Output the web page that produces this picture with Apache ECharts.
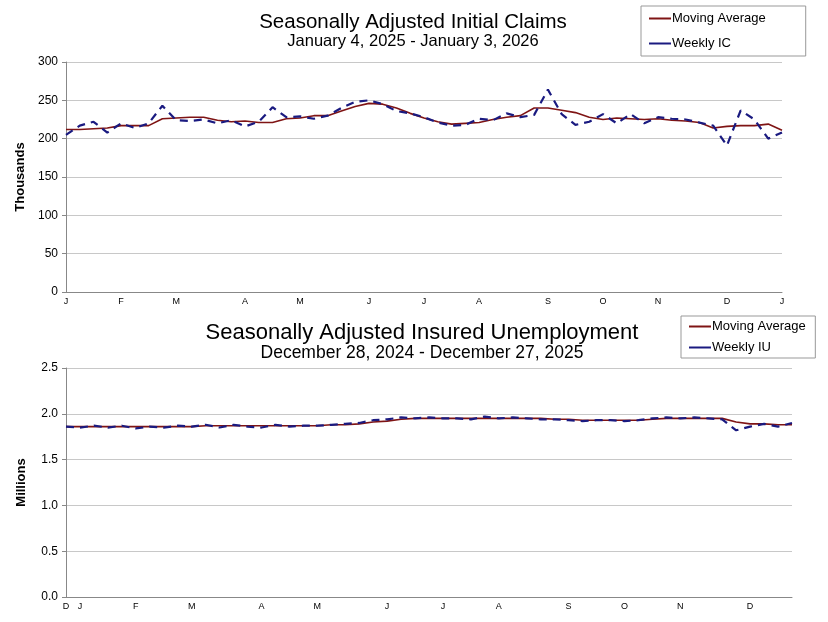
<!DOCTYPE html>
<html>
<head>
<meta charset="utf-8">
<script src="https://cdn.jsdelivr.net/npm/echarts@6/dist/echarts.min.js"></script>
<style>
  body { margin: 0; background: #fff; }
  #main { width: 828px; height: 622px; }
</style>
</head>
<body>
<div id="main"></div>
<script>
// Initial claims, thousands, weeks Jan 4 2025 - Jan 3 2026
const icLabels = ['J','','','','F','','','','M','','','','','A','','','','M','','','','','J','','','','J','','','','A','','','','','S','','','','O','','','','N','','','','','D','','','','J'];
const weeklyIC = [205,217,222,208,220,214,220,243,224,223,225,220,224,216,222,241,228,229,226,230,240,248,250,245,236,233,228,221,217,218,226,224,233,228,231,264,232,218,222,232,220,232,220,228,226,225,221,217,191,237,225,200,208];
const maIC = [212,212,213,214,217,217,217,226,227,228,228,224,222,223,221,221,226,227,230,230,236,242,246,245,240,233,227,222,219,220,221,225,228,230,240,240,237,234,228,225,227,226,225,226,224,223,221,214,216,217,217,219,211];

// Insured unemployment, millions, weeks Dec 28 2024 - Dec 27 2025
const iuLabels = ['D','J','','','','F','','','','M','','','','','A','','','','M','','','','','J','','','','J','','','','A','','','','','S','','','','O','','','','N','','','','','D','','',''];
const weeklyIU = [1.86,1.85,1.87,1.85,1.87,1.84,1.86,1.85,1.87,1.86,1.88,1.85,1.88,1.86,1.85,1.88,1.86,1.87,1.87,1.88,1.89,1.90,1.93,1.94,1.96,1.95,1.96,1.95,1.95,1.94,1.97,1.95,1.96,1.95,1.94,1.94,1.93,1.92,1.93,1.93,1.92,1.93,1.95,1.96,1.95,1.96,1.95,1.94,1.82,1.86,1.89,1.86,1.90];
const maIU = [1.86,1.86,1.86,1.86,1.86,1.86,1.86,1.86,1.86,1.86,1.87,1.87,1.87,1.87,1.87,1.87,1.87,1.87,1.87,1.88,1.88,1.89,1.91,1.92,1.94,1.95,1.95,1.95,1.95,1.95,1.95,1.95,1.95,1.95,1.95,1.94,1.94,1.93,1.93,1.93,1.93,1.93,1.94,1.95,1.95,1.95,1.95,1.95,1.91,1.89,1.89,1.88,1.88];

const font = 'Liberation Sans, Arial, sans-serif';
const MAROON = '#7f1414', NAVY = '#1a1a80';

const xAx = (labels, gi) => ({
  type: 'category', gridIndex: gi, data: labels, boundaryGap: false,
  axisLine: { lineStyle: { color: '#888' } },
  axisTick: { show: false },
  axisLabel: { interval: 0, fontSize: 9, color: '#000', fontFamily: font, margin: 5 },
  splitLine: { show: false }
});
const yAx = (gi, max, step, name, dec) => ({
  type: 'value', gridIndex: gi, min: 0, max: max, interval: step,
  name: name, nameLocation: 'middle', nameGap: 38,
  nameTextStyle: { fontSize: 13, fontWeight: 'bold', fontFamily: font, color: '#000' },
  axisLine: { show: true, lineStyle: { color: '#888' } },
  axisTick: { show: true, length: 4, lineStyle: { color: '#888' } },
  axisLabel: { fontSize: 12, color: '#000', fontFamily: font, formatter: v => v.toFixed(dec) },
  splitLine: { lineStyle: { color: '#c8c8c8' } }
});
const lines = (data, x, name, dashed) => ({
  type: 'line', name: name, xAxisIndex: x, yAxisIndex: x, data: data, symbol: 'none',
  lineStyle: dashed ? { color: NAVY, width: 2.2, type: [8, 6] } : { color: MAROON, width: 1.6 },
  itemStyle: { color: dashed ? NAVY : MAROON }, z: dashed ? 3 : 2
});
const legend = (top, left, names) => ({
  top: top, left: left, orient: 'vertical', itemGap: 8, itemWidth: 22, itemHeight: 2,
  padding: [6, 12, 6, 8], borderColor: '#999', borderWidth: 1,
  textStyle: { fontSize: 13, fontFamily: font, color: '#000', padding: [0, 0, 0, -4] },
  icon: 'rect', data: names
});

const chart = echarts.init(document.getElementById('main'));
chart.setOption({
  animation: false,
  title: [
    { text: 'Seasonally Adjusted Initial Claims', subtext: 'January 4, 2025 - January 3, 2026',
      left: 408, top: 7, textAlign: 'center', itemGap: 0,
      textStyle: { fontSize: 20.5, fontWeight: 'normal', fontFamily: font, color: '#000' },
      subtextStyle: { fontSize: 16.5, fontFamily: font, color: '#000' } },
    { text: 'Seasonally Adjusted Insured Unemployment', subtext: 'December 28, 2024 - December 27, 2025',
      left: 417, top: 317, textAlign: 'center', itemGap: 0,
      textStyle: { fontSize: 22, fontWeight: 'normal', fontFamily: font, color: '#000' },
      subtextStyle: { fontSize: 17.5, fontFamily: font, color: '#000' } }
  ],
  legend: [
    Object.assign(legend(6, 641, ['Moving Average', 'Weekly IC']), { itemGap: 12, padding: [6, 40, 6, 8] }),
    Object.assign(legend(316, 681, ['Moving Average ', 'Weekly IU']), { padding: [4, 6, 4, 8] })
  ],
  grid: [
    { left: 66, right: 46, top: 62, height: 230 },
    { left: 66, right: 36, top: 368, height: 229 }
  ],
  xAxis: [xAx(icLabels, 0), xAx(iuLabels, 1)],
  yAxis: [yAx(0, 300, 50, 'Thousands', 0), yAx(1, 2.5, 0.5, 'Millions', 1)],
  series: [
    lines(maIC, 0, 'Moving Average', false),
    lines(weeklyIC, 0, 'Weekly IC', true),
    lines(maIU, 1, 'Moving Average ', false),
    lines(weeklyIU, 1, 'Weekly IU', true)
  ]
});
</script>
</body>
</html>
